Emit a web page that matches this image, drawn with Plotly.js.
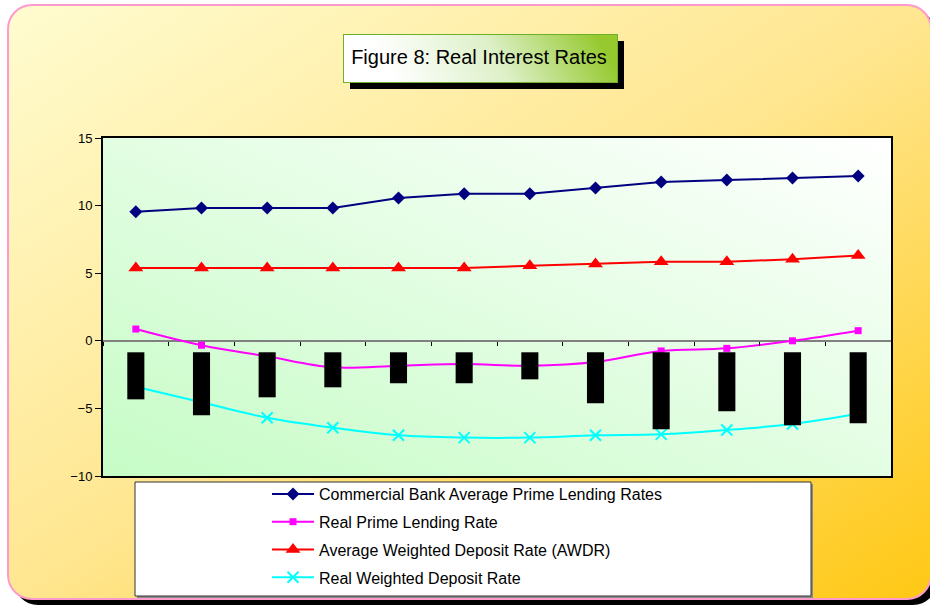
<!DOCTYPE html>
<html>
<head>
<meta charset="utf-8">
<script src="https://cdn.plot.ly/plotly-3.0.1.min.js"></script>
<style>html,body{margin:0;padding:0;background:#fff;}#chart{width:930px;height:605px;}</style>
</head>
<body>
<div id="chart"></div>
<script>
// ---- data ----
const periods = ["1","2","3","4","5","6","7","8","9","10","11","12"];
const primeLending = [9.55, 9.82, 9.82, 9.82, 10.56, 10.88, 10.88, 11.30, 11.75, 11.89, 12.04, 12.19];
const realPrimeLending = [0.87, -0.33, -1.15, -1.96, -1.84, -1.72, -1.84, -1.57, -0.75, -0.56, 0.0, 0.75];
const awdr = [5.38, 5.38, 5.38, 5.38, 5.38, 5.38, 5.55, 5.68, 5.85, 5.85, 6.03, 6.30];
const realDeposit = [-3.4, -4.55, -5.69, -6.43, -6.99, -7.16, -7.16, -6.99, -6.92, -6.60, -6.15, -5.40];
// black blocks hanging below the zero line (category label area)
const blockTop = -0.85;
const blockBottom = [-4.33, -5.51, -4.18, -3.44, -3.14, -3.14, -2.85, -4.62, -6.55, -5.21, -6.25, -6.10];
const yTicks = [-10, -5, 0, 5, 10, 15];
const seriesNames = [
  "Commercial Bank Average Prime Lending Rates",
  "Real Prime Lending Rate",
  "Average Weighted Deposit Rate (AWDR)",
  "Real Weighted Deposit Rate"
];
const chartTitle = "Figure 8: Real Interest Rates";

// ---- geometry helpers ----
const W = 930, H = 605;
const M = {l: 103, r: 39, t: 138, b: 129, autoexpand: false};
const pw = W - M.l - M.r, ph = H - M.t - M.b;
const px = x => (x - M.l) / pw;
const py = y => 1 - (y - M.t) / ph;
const yRange = [yTicks[0], yTicks[yTicks.length - 1]];
const xRange = [-0.5, periods.length - 0.5];
const svgUri = s => 'data:image/svg+xml;charset=utf-8,' + encodeURIComponent(s);

const bgSvg = `<svg xmlns='http://www.w3.org/2000/svg' width='930' height='605' viewBox='0 0 930 605'>
<defs><linearGradient id='g' x1='0' y1='0' x2='1' y2='1'>
<stop offset='0' stop-color='#FFFCD0'/><stop offset='0.5' stop-color='#FFE690'/><stop offset='1' stop-color='#FFC814'/>
</linearGradient></defs>
<rect x='14' y='11' width='923' height='594' rx='24' fill='#000'/>
<rect x='8' y='5' width='923' height='594' rx='24' fill='url(#g)' stroke='#FF99CC' stroke-width='2'/>
</svg>`;

const plotSvg = `<svg xmlns='http://www.w3.org/2000/svg' width='100' height='100' viewBox='0 0 100 100' preserveAspectRatio='none'>
<defs><linearGradient id='p' x1='0' y1='1' x2='1' y2='0'>
<stop offset='0' stop-color='#C6FCC6'/><stop offset='1' stop-color='#FFFFFF'/>
</linearGradient></defs>
<rect x='0' y='0' width='100' height='100' fill='url(#p)'/>
</svg>`;

const titleSvg = `<svg xmlns='http://www.w3.org/2000/svg' width='282' height='56' viewBox='0 0 282 56'>
<defs><linearGradient id='t' gradientUnits='userSpaceOnUse' x1='60' y1='60' x2='230' y2='-40'>
<stop offset='0' stop-color='#FFFFFF'/><stop offset='0.5' stop-color='#DDF0C8'/><stop offset='1' stop-color='#95C92E'/>
</linearGradient></defs>
<rect x='7' y='7' width='274' height='48' fill='#000'/>
<rect x='0.5' y='0.5' width='274' height='48' fill='url(#t)' stroke='#6FAF2A' stroke-width='1'/>
</svg>`;

const legendFont = {family: 'Liberation Sans, Arial, sans-serif', size: 16, color: '#000'};

const traces = [
  {type: 'scatter', mode: 'lines+markers', x: periods, y: primeLending, name: seriesNames[0], legendgroup: 'a',
   line: {color: '#000080', width: 2}, marker: {symbol: 'diamond', size: 10, color: '#000080'}},
  {type: 'scatter', mode: 'lines+markers', x: periods, y: realPrimeLending, name: seriesNames[1], legendgroup: 'b',
   line: {color: '#FF00FF', width: 2, shape: 'spline', smoothing: 1}, marker: {symbol: 'square', size: 7, color: '#FF00FF'}},
  {type: 'scatter', mode: 'lines+markers', x: periods, y: awdr, name: seriesNames[2], legendgroup: 'c',
   line: {color: '#FF0000', width: 2}, marker: {symbol: 'triangle-up', size: 13, color: '#FF0000'}},
  {type: 'scatter', mode: 'lines+markers', x: periods, y: realDeposit, name: seriesNames[3], legendgroup: 'd',
   line: {color: '#00FFFF', width: 2, shape: 'spline', smoothing: 1},
   marker: {symbol: 'x-thin-open', size: 11, color: '#00FFFF', line: {color: '#00FFFF', width: 2}}},
  {type: 'bar', x: periods, y: blockBottom.map(b => b - blockTop), base: blockTop, xaxis: 'x2', yaxis: 'y',
   width: 0.26, marker: {color: '#000', line: {width: 0}}, showlegend: false, hoverinfo: 'skip'}
];

const layout = {
  width: W, height: H, autosize: false,
  margin: M,
  paper_bgcolor: 'rgba(0,0,0,0)',
  plot_bgcolor: 'rgba(0,0,0,0)',
  showlegend: true,
  title: {
    text: chartTitle,
    font: {family: 'Liberation Sans, Arial, sans-serif', size: 20, color: '#000'},
    xref: 'paper', x: px(479), xanchor: 'center',
    yref: 'container', y: 1 - 57 / H, yanchor: 'middle'
  },
  xaxis: {
    type: 'category', range: xRange, showticklabels: false, ticks: '',
    showline: true, mirror: true, linecolor: '#000', linewidth: 2,
    showgrid: false, zeroline: false, fixedrange: true
  },
  xaxis2: {
    type: 'category', overlaying: 'x', anchor: 'free',
    position: (0 - yRange[0]) / (yRange[1] - yRange[0]),
    range: xRange, showticklabels: false, ticks: 'outside', tickson: 'boundaries',
    ticklen: 4, tickwidth: 1, tickcolor: '#000', showline: false, showgrid: false, zeroline: false
  },
  yaxis: {
    range: yRange, tickmode: 'array', tickvals: yTicks,
    ticks: 'outside', ticklen: 6, tickwidth: 1, tickcolor: '#000',
    tickfont: {family: 'Liberation Sans Narrow, Arial Narrow, Liberation Sans, Arial, sans-serif', size: 13, color: '#000'},
    showline: true, mirror: true, linecolor: '#000', linewidth: 2,
    showgrid: false, zeroline: true, zerolinecolor: '#808080', zerolinewidth: 2
  },
  legend: {
    x: px(267), y: py(477), xanchor: 'left', yanchor: 'top',
    bgcolor: 'rgba(0,0,0,0)', borderwidth: 0, font: legendFont,
    itemwidth: 42, traceorder: 'grouped', tracegroupgap: 4
  },
  images: [
    {source: svgUri(bgSvg), xref: 'paper', yref: 'paper', x: px(0), y: py(0), sizex: W / pw, sizey: H / ph,
     xanchor: 'left', yanchor: 'top', sizing: 'stretch', layer: 'below'},
    {source: svgUri(plotSvg), xref: 'paper', yref: 'paper', x: 0, y: 1, sizex: 1, sizey: 1,
     xanchor: 'left', yanchor: 'top', sizing: 'stretch', layer: 'below'},
    {source: svgUri(titleSvg), xref: 'paper', yref: 'paper', x: px(343), y: py(34), sizex: 282 / pw, sizey: 56 / ph,
     xanchor: 'left', yanchor: 'top', sizing: 'stretch', layer: 'below'}
  ],
  shapes: [
    {type: 'rect', xref: 'paper', yref: 'paper', x0: px(137), x1: px(813), y0: py(484), y1: py(598),
     fillcolor: '#8a8a8a', line: {width: 0}, layer: 'above'},
    {type: 'rect', xref: 'paper', yref: 'paper', x0: px(135), x1: px(811), y0: py(482), y1: py(596),
     fillcolor: '#FFFFFF', line: {color: '#333', width: 1}, layer: 'above'}
  ]
};

Plotly.newPlot('chart', traces, layout, {staticPlot: true, displayModeBar: false});
</script>
</body>
</html>
